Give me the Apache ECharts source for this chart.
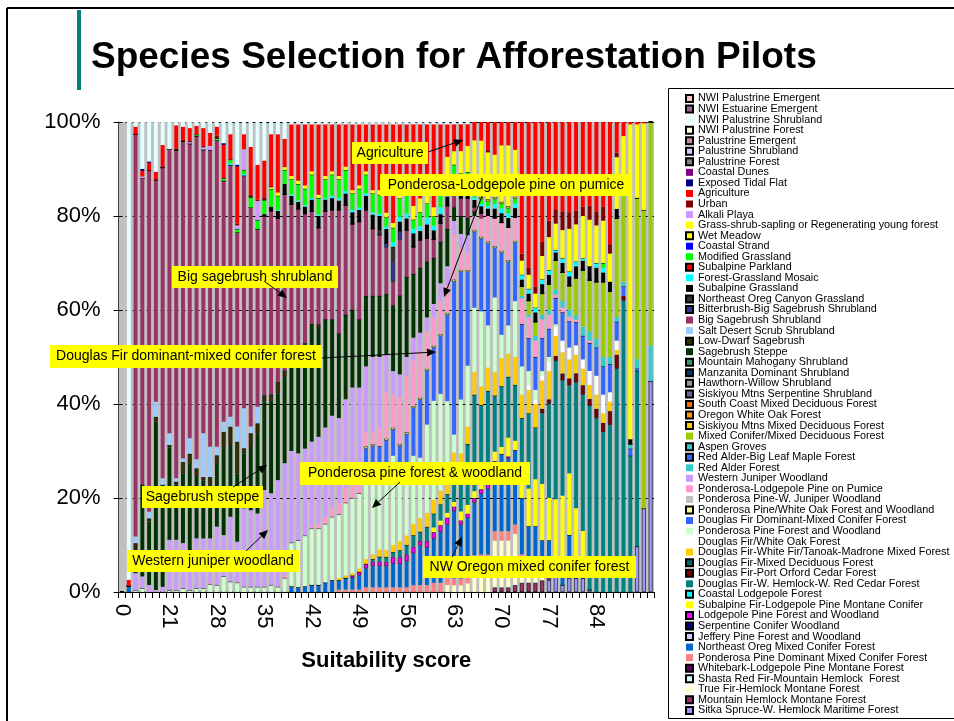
<!DOCTYPE html>
<html>
<head>
<meta charset="utf-8">
<title>Species Selection for Afforestation Pilots</title>
<script src="https://cdn.jsdelivr.net/npm/echarts@6/dist/echarts.min.js"></script>
<style>
  html, body { margin: 0; padding: 0; background: #fff; }
  #chart { width: 954px; height: 721px; }
</style>
</head>
<body>
<div id="chart"></div>
<script>
const categories = ['0',
  '15', '16', '17', '18', '19', '20', '21', '22', '23', '24',
  '25', '26', '27', '28', '29', '30', '31', '32', '33', '34',
  '35', '36', '37', '38', '39', '40', '41', '42', '43', '44',
  '45', '46', '47', '48', '49', '50', '51', '52', '53', '54',
  '55', '56', '57', '58', '59', '60', '61', '62', '63', '64',
  '65', '66', '67', '68', '69', '70', '71', '72', '73', '74',
  '75', '76', '77', '78', '79', '80', '81', '82', '83', '84',
  '85', '86', '87', '88', '89', '90', '91', '92']
const tickLabels = ['0', '21', '28', '35', '42', '49', '56', '63', '70', '77', '84']

// share of each habitat type per score (top of stack first)
const nwiShrub = [0, 97.4, 1, 10, 8.4, 10.6, 4.9, 5.8, 0.7, 1,
  1.3, 0.8, 1.3, 2.3, 1, 4.5, 2.6, 9.1, 2.6, 5.3,
  9.1, 8.2, 2.6, 2.6, 3.6, 0.5, 0.5, 0.5, 0.5, 0.5,
  0.5, 0.5, 0.5, 0.5, 0.5, 0.5, 0.5, 0.5, 0.5, 0.5,
  0.5, 0.5, 0.5, 0.5, 0.5, 0.5, 0.5, 0.5, 0.5, 0.5,
  0.5, 0.5, 0, 0, 0, 0, 0, 0, 0, 0,
  0, 0, 0, 0, 0, 0, 0, 0, 0, 0,
  0, 0, 0, 0, 0, 0, 0, 0, 0]
const tidalFlat = [0, 0, 0, 0.4, 0.3, 0, 0, 0, 0, 0,
  0, 0, 0, 0, 0, 0.4, 0, 0.4, 0, 0,
  0, 0, 0, 0, 0, 0, 0, 0, 0, 0,
  0, 0, 0, 0, 0, 0, 0, 0, 0, 0,
  0, 0, 0, 0, 0, 0, 0, 0, 0, 0,
  0, 0, 0, 0, 0, 0, 0, 0, 0, 0,
  0, 0, 0, 0, 0, 0, 0, 0, 0, 0,
  0, 0, 0, 0, 0, 0, 0, 0, 0]
const agriculture = [0, 1.3, 1.6, 1.2, 1.6, 1.7, 4.5, 0, 4.9, 2.8,
  2.6, 1.9, 3.8, 2.8, 1.9, 7.1, 5.4, 12.1, 3.2, 10.2,
  7.4, 7.8, 11, 12.4, 6, 11, 12, 13, 10, 15,
  11, 10, 11, 9, 14, 13, 10, 14, 14, 19,
  21, 15, 13, 18, 16, 15, 18, 12, 7, 6,
  6, 5, 4, 4, 6, 7, 5, 5, 6, 28,
  31, 35, 25.5, 21, 18.7, 19, 19, 19, 18, 18,
  19, 18, 26, 6.5, 3, 0.5, 0.5, 0.3, 0]
const urban = [0, 0, 0, 0, 0, 0, 0.3, 0, 0.4, 0.3,
  0.4, 0, 0.3, 0, 0.6, 0, 0, 0.4, 0, 0.5,
  0.3, 0.6, 0.3, 0, 0, 0, 0, 0, 0, 0,
  0, 0, 0, 0, 0, 0, 0, 0, 0, 0,
  0, 0, 0, 0, 0, 0, 0, 0, 0, 0,
  0, 0, 0, 0, 0.5, 0, 0, 0, 0, 1.5,
  1.5, 1.5, 3, 3.5, 2.9, 4, 3.5, 3, 2, 3,
  3, 3, 2, 1, 0, 0, 0, 0, 0]
const alkaliPlaya = [0, 0, 0, 0.4, 0, 0, 0, 0, 0, 0,
  0.3, 0, 0.5, 0.9, 0, 0, 0, 0.8, 4.4, 0,
  4.1, 0, 0, 0, 0, 0, 0, 0, 0, 0,
  0, 0, 0, 0, 0, 0, 0, 0, 0, 0,
  0, 0, 0, 0, 0, 0, 0, 0, 0, 0,
  0, 0, 0, 0, 0, 0, 0, 0, 0, 0,
  0, 0, 0, 0, 0, 0, 0, 0, 0, 0,
  0, 0, 0, 0, 0, 0, 0, 0, 0]
const grassShrub = [0, 0, 0, 0, 0, 0, 0, 0, 0, 0,
  0, 0, 0, 0, 0, 0, 0, 0, 0, 0,
  0, 0, 0.4, 0.7, 0.6, 0.7, 0.7, 0.7, 0.7, 0.7,
  0.7, 0.7, 0.7, 0.7, 0.7, 0.7, 0.7, 0.7, 1, 1,
  1, 1, 2, 3, 3, 2, 2, 3, 4, 3,
  5, 6, 11, 12, 10, 9, 12, 13, 10, 3,
  3, 3, 5, 7, 5.6, 6, 9, 8, 9, 10,
  8, 9, 6, 11, 10, 67, 15.5, 18.5, 0]
const wetMeadow = [0, 0, 0, 0, 0, 0, 0, 0, 0, 0,
  0, 0, 0, 0, 0, 0, 0, 0, 0, 0,
  0, 0, 0, 0, 0, 0, 0, 0, 0, 0,
  0, 0, 0, 0, 0, 0, 0, 0, 0, 0,
  0, 0, 0, 0, 0, 0, 0, 0, 0, 0,
  0, 0, 0.5, 0.5, 0.5, 0.5, 0.5, 0.5, 0.5, 0,
  0, 0, 0, 0, 0, 0, 0, 0, 0, 0,
  0, 0, 0, 0, 0, 0, 0, 0, 0]
const modGrass = [0, 0, 0, 0, 0, 0, 0, 0, 0, 0,
  0, 0.3, 0, 0, 0.4, 0.5, 0.8, 0.7, 0.9, 2.2,
  1.9, 3, 3.7, 3, 3, 3.2, 3.5, 3.5, 5, 3.5,
  4, 4.5, 4, 4.5, 3.5, 4, 4, 4, 4, 2,
  3, 4, 4, 2, 3, 3, 2, 3, 3, 2,
  2, 2, 1, 1, 1, 1, 1, 1, 1, 0,
  0, 0, 0, 0, 0, 0, 0, 0, 0, 0,
  0, 1, 0, 0, 0, 0, 0, 0, 0]
const fgMosaic = [0, 0, 0, 0, 0, 0, 0, 0, 0, 0,
  0, 0, 0, 0, 0, 0, 0.4, 0, 0.3, 0,
  0, 0, 0, 0.2, 0, 0.3, 0.3, 0.3, 0.3, 0.3,
  0.3, 0.5, 0.5, 0.5, 0.5, 0.5, 0.5, 0.5, 0.5, 0.5,
  1, 1, 1, 1, 1, 1.5, 1, 1.5, 1.5, 1.5,
  1.5, 1.5, 0.5, 0.5, 0.5, 1, 1, 1, 1, 1,
  1, 1, 1, 1, 0.5, 1, 1, 1, 0.5, 0,
  1, 1, 0, 0, 0, 0, 0, 0, 0]
const subGrass = [0, 0, 0, 0, 0, 0, 0, 0, 0, 0,
  0, 0, 0, 0, 0, 0, 0, 0, 0, 0,
  0, 0.4, 0.9, 1.6, 2.2, 1.8, 1.5, 1.5, 2.5, 2.5,
  2.5, 2.5, 2, 2.5, 2.5, 2.5, 3, 3, 3, 3,
  0, 2, 2.5, 3, 2, 3, 2, 2, 2, 2,
  2, 2.5, 1.5, 1.5, 1.5, 2, 2, 2, 2, 1.5,
  1.5, 2, 2, 2, 1.7, 2, 2, 2.5, 2, 3,
  3, 2, 2, 2, 1, 1, 0, 0, 0]
const neCanyon = [0, 0, 0, 0, 0, 0, 0, 0, 0, 0,
  0, 0, 0, 0, 0, 0, 0, 0, 0, 0,
  0, 0, 0, 0, 0, 0, 0, 0, 0, 0,
  0, 0, 0, 0, 0, 0, 0, 0, 1, 0,
  3, 0, 0, 0, 0, 0, 0, 0, 0, 0,
  0, 0, 0, 0, 0, 0, 0, 0, 0, 0,
  0, 0, 0, 0, 0, 0, 0, 0, 0, 0,
  0, 0, 0, 0, 0, 0, 0, 0, 0]
const bitterbrush = [0, 0, 0, 0, 0, 0, 0, 0, 0, 0,
  0, 0, 0, 0, 0, 0, 0, 0, 0, 0,
  0, 0, 0, 0, 0, 0, 0, 0, 0, 0,
  0, 0, 0, 0, 0, 0, 0, 0, 0, 1,
  4.5, 2, 0, 0, 0, 0, 0, 0, 0, 0,
  0, 0, 0, 0, 0, 0, 0, 0, 0, 0,
  0, 0, 0, 0, 0, 0, 0, 0, 0, 0,
  0, 0, 0, 0, 0, 0, 0, 0, 0]
const bigSage = [0, 0, 85.6, 65.2, 72.7, 47.2, 66.1, 60.4, 69.8, 67.5,
  62.6, 68.7, 60.4, 63.1, 65.2, 51.3, 53.5, 41.3, 49.5, 46.6,
  37.8, 38.1, 39, 34.7, 37.4, 30, 29, 27.5, 24, 20.5,
  23, 23.3, 26.3, 23.3, 18.3, 20.8, 18.3, 14.3, 13, 10,
  5, 12, 10, 6, 6, 5, 4, 4, 5, 4,
  4, 4.5, 1, 1, 0, 0, 0, 0, 0, 0,
  0, 0, 0, 0, 0, 0, 0, 0, 0, 0,
  0, 0, 0, 0, 0, 0, 0, 0, 0]
const saltDesert = [0, 0, 1.4, 0, 1.4, 3.2, 1.4, 2.5, 0.7, 0.7,
  3.3, 1.9, 9.3, 6.4, 1.8, 2.1, 2.1, 3.2, 8.5, 1.4,
  3.5, 0, 0, 0, 0, 0, 0, 0, 0, 0,
  0, 0, 0, 0, 0, 0, 0, 0, 0, 0,
  0, 0, 0, 0, 0, 0, 0, 0, 0, 0,
  0, 0, 0, 0, 0, 0, 0, 0, 0, 0,
  0, 0, 0, 0, 0, 0, 0, 0, 0, 0,
  0, 0, 0, 0, 0, 0, 0, 0, 0]
const lowDwarf = [0, 0, 1.5, 0, 0.7, 1, 0, 0.5, 0.7, 2.5,
  2.4, 1.8, 0.7, 1.7, 1.7, 3.5, 3.9, 6.8, 1.1, 2.9,
  2.1, 1.4, 1.6, 2.5, 1.4, 0.8, 0.5, 1.5, 0, 1,
  0, 0, 0, 0, 0, 0, 0, 0, 0, 0,
  0, 0, 0, 0, 0, 0, 0, 0, 0, 0,
  0, 0, 0, 0, 0, 0, 0, 0, 0, 0,
  0, 0, 0, 0, 0, 0, 0, 0, 0, 0,
  0, 0, 0, 0, 0, 0, 0, 0, 0]
const steppe = [0, 0, 4.9, 19.5, 13.5, 35.9, 21.7, 19.7, 11.7, 14.8,
  18.1, 13.1, 12.4, 11.4, 13.5, 18.5, 15.3, 14.5, 11.7, 13.5,
  17.1, 18.8, 19.5, 18.5, 18.4, 21.7, 22.5, 21, 25, 23,
  23, 20.5, 18, 18, 16.5, 14.5, 15, 13, 13, 13,
  14, 17, 17, 14, 14, 12, 10, 9, 8, 3,
  4, 4, 1, 0, 0, 0, 0, 0, 0, 0,
  0, 0, 0, 0, 0, 0, 0, 0, 0, 0,
  0, 0, 0, 0, 0, 0, 0, 0, 0]
const juniper = [0, 0, 3.6, 2.5, 1.5, 0.4, 1.1, 10.7, 10.7, 9.6,
  8.5, 10.6, 10.6, 9.4, 12.4, 8.8, 13.8, 8.5, 16.7, 16.3,
  15.6, 20.6, 19.5, 22.7, 23.7, 19.5, 18.5, 18.5, 18, 18.5,
  19, 19.5, 18, 19, 19.5, 18.5, 14, 16, 15, 8,
  5, 5, 4, 5, 4, 3, 3, 4, 4, 3,
  3, 4, 0, 0, 0, 0, 0, 0, 0, 0,
  0, 0, 0, 0, 0, 0, 0, 0, 0, 0,
  0, 0, 0, 0, 0, 0, 0, 0, 0]
const pondLodge = [0, 0, 0, 0, 0, 0, 0, 0, 0, 0,
  0, 0, 0, 0.3, 0, 0, 0, 0.2, 0, 0,
  0, 0, 0, 0, 0.7, 0, 0, 0, 0.5, 1,
  1.5, 2, 2.5, 3, 4, 4, 3, 2.5, 4, 10,
  7, 10, 12, 10, 10, 8, 6, 7, 6, 10,
  5, 4, 3, 4, 5.5, 6, 6, 7, 5, 5.5,
  4.5, 3.5, 4, 3, 0.7, 1, 1, 0.5, 0, 0.5,
  0, 0, 0, 0, 0, 0, 0, 0, 0]
const ppWhiteOak = [0, 0, 0, 0, 0, 0, 0, 0, 0, 0,
  0, 0, 0, 0, 0, 0, 0, 0, 0, 0,
  0, 0, 0, 0, 0, 0, 0, 0, 0, 0,
  0, 0, 0, 0, 0, 0, 0.5, 0.5, 0, 0.5,
  0.5, 0.5, 0.5, 0.5, 0.5, 0.5, 0.5, 0.5, 0.5, 0.5,
  0.5, 0.5, 0.5, 0.5, 0.5, 0.5, 0.5, 0.5, 0.5, 0,
  0, 0, 0, 0, 0, 0, 0, 0, 0, 0,
  0, 0, 0, 0, 0, 0, 0, 0, 0]
const dfDominant = [0, 0, 0, 0, 0, 0, 0, 0, 0, 0,
  0, 0, 0, 0, 0, 0, 0, 0, 0, 0,
  0, 0, 0, 0, 0, 0, 0, 0, 0, 0,
  0, 0, 0, 0, 0, 0, 5.5, 3.5, 5, 5.5,
  5.5, 5.5, 7.5, 10.5, 12.5, 11.5, 11.5, 12.5, 18.5, 34,
  28.5, 21.5, 16.5, 15.5, 17.5, 10.5, 17.5, 13.5, 12.5, 9,
  7, 7, 7, 6, 5.6, 6, 5.5, 5, 5, 6,
  6, 6, 6, 4, 2, 1.5, 0.5, 0, 0]
const ppForest = [0, 0, 0.4, 0.8, 0, 0, 0, 0.4, 0.4, 0.8,
  0.4, 0.8, 0.8, 1.7, 1.5, 3.3, 2.2, 2, 1.1, 1.1,
  1.1, 1.1, 1.5, 1.1, 3, 9.3, 10, 10.8, 12, 12,
  12.5, 13.5, 13.5, 15.5, 16, 16, 18, 19.5, 17, 18,
  19, 15, 14, 15, 13, 19, 21.5, 21, 17, 4,
  12, 14, 14, 16, 9, 16, 5, 6, 12, 6,
  3, 2, 1, 1, 0.5, 0, 0, 0, 0, 0,
  0, 0, 0, 0, 0, 0, 0, 0, 0]
const dfWhiteOak = [0, 0, 0, 0, 0, 0, 0, 0, 0, 0,
  0, 0, 0, 0, 0, 0, 0, 0, 0, 0,
  0, 0, 0, 0, 0, 0, 0, 0, 0, 0,
  0, 0, 0, 0, 0, 0, 0, 0, 0, 0,
  0, 0, 0, 0, 0, 0, 0, 0, 0, 0,
  0, 0, 0, 0, 0, 0, 0, 0, 0, 0,
  1, 1, 1, 2, 2, 2.5, 2.5, 2, 2, 3,
  4, 4, 2, 2, 0, 0, 0, 0, 0]
const dfTanoak = [0, 0, 0, 0, 0, 0, 0, 0, 0, 0,
  0, 0, 0, 0, 0, 0, 0, 0, 0, 0,
  0, 0, 0, 0, 0, 0, 0, 0, 0, 0,
  0, 0, 0.5, 0.5, 0.5, 0.7, 1, 1, 1.5, 1.5,
  1.5, 2, 2, 2.5, 3, 3, 3, 3, 3, 3,
  3, 4, 5, 4, 5, 5, 6, 5, 6, 5,
  5, 5, 6, 6, 4.2, 4.5, 4, 4, 3.5, 3,
  3, 2, 2, 1, 0, 0, 0, 0, 0]
const dfPortOrford = [0, 0, 0, 0, 0, 0, 0, 0, 0, 0,
  0, 0, 0, 0, 0, 0, 0, 0, 0, 0,
  0, 0, 0, 0, 0, 0, 0, 0, 0, 0,
  0, 0, 0, 0, 0, 0, 0, 0, 0, 0,
  0, 0, 0, 0, 0, 0, 0, 0, 0, 0,
  0, 0, 0, 0, 0, 0, 0, 0, 0, 0,
  0, 0, 1, 1, 1.1, 1.5, 1.5, 2, 2, 1.5,
  2, 2, 3, 3, 1, 0, 0, 0, 0]
const dfHemlock = [0, 0, 0, 0, 0, 0, 0, 0, 0, 0,
  0, 0, 0, 0, 0, 0, 0, 0, 0, 0,
  0, 0, 0, 0, 0, 0, 0, 0, 0, 0,
  0, 0, 0, 0, 0, 0, 0, 0.5, 1, 1,
  1, 1.5, 2, 2.5, 2, 3, 3, 3.5, 4, 8,
  10, 14, 21, 16, 18, 12, 13, 13, 12, 12,
  16, 11, 15, 20, 29.4, 24.5, 18.5, 27, 29, 39.5,
  37, 34, 35.5, 47.5, 62, 29, 37, 0, 0]
const redAlder = [0, 0, 0, 0, 0, 0, 0, 0, 0, 0,
  0, 0, 0, 0, 0, 0, 0, 0, 0, 0,
  0, 0, 0, 0, 0, 0, 0, 0, 0, 0,
  0, 0, 0, 0, 0, 0, 0, 0, 0, 0,
  0, 0, 0, 0, 0, 0, 0, 0, 0, 0,
  0, 0, 0, 0, 0, 0, 0, 0, 0, 0.5,
  0.5, 1, 1, 1, 1.1, 1.5, 1.5, 1, 2, 2,
  2, 2, 1.5, 1, 1, 1, 2, 0, 7.7]
const mixedConifer = [0, 0, 0, 0, 0, 0, 0, 0, 0, 0,
  0, 0, 0, 0, 0, 0, 0, 0, 0, 0,
  0, 0, 0, 0, 0, 0, 0, 0, 0, 0,
  0, 0, 0, 0, 0, 0, 0, 0, 0, 0,
  0, 0, 0, 0, 0, 0, 0, 0, 0, 0,
  0, 0, 0, 0, 0, 0, 0, 0, 0, 2,
  3, 3, 4.5, 5.5, 6.2, 6, 5, 8, 12, 11,
  12, 16, 14, 21, 20, 0, 34, 63.5, 48]
const subalpineFir = [0, 0, 0, 0, 0, 0, 0, 0, 0, 0,
  0, 0, 0, 0, 0, 0, 0, 0, 0, 0,
  0, 0, 0, 0, 0, 0, 0, 0, 0, 0,
  0, 0, 0, 0, 0, 0, 0, 0, 0, 0,
  0, 0, 0, 0, 0, 0, 1, 1, 1, 1,
  2, 2, 1.5, 2, 2, 2, 1.5, 4, 2, 5,
  8, 10, 12, 9, 12.1, 13, 13, 12, 10, 0,
  0, 0, 0, 0, 0, 0, 0, 0, 0]
const lodgepole = [0, 0, 0, 0, 0, 0, 0, 0, 0, 0,
  0, 0, 0, 0, 0, 0, 0, 0, 0, 0,
  0, 0, 0, 0, 0, 0, 0, 0, 0, 0,
  0, 0, 0, 0, 0.5, 0.8, 1, 1, 1, 1,
  1.5, 1.5, 1.5, 1.5, 1, 1.5, 1.5, 1.5, 1.5, 1,
  1, 1, 1, 1, 1, 0.5, 0, 0.5, 0, 0,
  0, 0, 0, 0, 0, 0, 0, 0, 0, 0,
  0, 0, 0, 0, 0, 0, 0, 0, 0]
const neMixed = [0, 1.3, 0, 0, 0, 0, 0, 0, 0, 0,
  0, 0, 0, 0, 0, 0, 0, 0, 0, 0,
  0, 0, 0, 0, 0, 1.2, 1, 1.2, 1.5, 1.5,
  2, 2.5, 2, 2.5, 2.5, 3, 4, 4.5, 4.5, 4.5,
  5, 5, 5.5, 7, 8.5, 8, 9.5, 11, 11.5, 15,
  12, 13, 11.5, 13, 14, 14.5, 16.5, 15.5, 16, 12,
  7, 8, 5, 5, 2, 6, 9, 3, 0, 0,
  0, 0, 0, 0, 0, 0, 0, 0, 0]
const ppDominant = [0, 0, 0, 0, 0, 0, 0, 0, 0, 0,
  0, 0, 0, 0, 0, 0, 0, 0, 0, 0,
  0, 0, 0, 0, 0, 0, 0, 0, 0, 0,
  0, 0, 0.5, 0.5, 0.5, 0.5, 1, 1, 1, 1,
  1, 1, 1, 1.5, 1.5, 1.5, 2, 2, 1.5, 1.5,
  1.5, 2, 2, 2, 2, 2, 2, 2, 2, 2,
  1.5, 1.5, 1.5, 1.5, 0, 0, 0, 0, 0, 0,
  0, 0, 0, 0, 0, 0, 0, 0, 0]
const trueFir = [0, 0, 0, 0, 0, 0, 0, 0, 0, 0,
  0, 0, 0, 0, 0, 0, 0, 0, 0, 0,
  0, 0, 0, 0, 0, 0, 0, 0, 0, 0,
  0, 0, 0, 0, 0, 0, 0, 0, 0, 0,
  0, 0, 0, 0, 0, 0, 0, 0, 1.5, 1.5,
  1.5, 2, 6, 6, 6, 10, 10, 10, 11, 4,
  3.5, 2.5, 2, 0, 0, 0, 0, 0, 0, 0,
  0, 0, 0, 0, 0, 0, 0, 0, 0]
const mtnHemlock = [0, 0, 0, 0, 0, 0, 0, 0, 0, 0,
  0, 0, 0, 0, 0, 0, 0, 0, 0, 0,
  0, 0, 0, 0, 0, 0, 0, 0, 0, 0,
  0, 0, 0, 0, 0, 0, 0, 0, 0, 0,
  0, 0, 0, 0, 0, 0, 0, 0, 0, 0,
  0, 0, 0, 0, 0, 1, 1, 1, 1.5, 2,
  2, 2, 2.5, 2, 1, 0, 0, 0, 0, 0,
  0, 0, 0, 0, 0, 0, 0, 0, 0]
const sitka = [0, 0, 0, 0, 0, 0, 0, 0, 0, 0,
  0, 0, 0, 0, 0, 0, 0, 0, 0, 0,
  0, 0, 0, 0, 0, 0, 0, 0, 0, 0,
  0, 0, 0, 0, 0, 0, 0, 0, 0, 0,
  0, 0, 0, 0, 0, 0, 0, 0, 0, 0,
  0, 0, 0, 0, 0, 0, 0, 0, 0, 0,
  0, 0, 0, 2.5, 4.6, 1.5, 3, 3, 3, 0.5,
  0, 0, 0, 0, 0, 0, 9.6, 17.8, 45.2]

// legend order = top of stack first; b = outlined swatch
const layers = [
  { name: 'NWI Palustrine Emergent', color: '#ffc0c0', b: 1, data: [] },
  { name: 'NWI Estuarine Emergent', color: '#996699', b: 1, data: [] },
  { name: 'NWI Palustrine Shrubland', color: '#e3ffff', data: nwiShrub },
  { name: 'NWI Palustrine Forest', color: '#ffffe0', b: 1, data: [] },
  { name: 'Palustrine Emergent', color: '#c08ca8', b: 1, data: [] },
  { name: 'Palustrine Shrubland', color: '#ccccff', b: 1, data: [] },
  { name: 'Palustrine Forest', color: '#808080', b: 1, data: [] },
  { name: 'Coastal Dunes', color: '#800080', data: [] },
  { name: 'Exposed Tidal Flat', color: '#000080', data: tidalFlat },
  { name: 'Agriculture', color: '#ff0000', data: agriculture },
  { name: 'Urban', color: '#800000', data: urban },
  { name: 'Alkali Playa', color: '#cc99ff', data: alkaliPlaya },
  { name: 'Grass-shrub-sapling or Regenerating young forest', color: '#ffff00', data: grassShrub },
  { name: 'Wet Meadow', color: '#ffff00', b: 1, data: wetMeadow },
  { name: 'Coastal Strand', color: '#0000ff', data: [] },
  { name: 'Modified Grassland', color: '#00ff00', data: modGrass },
  { name: 'Subalpine Parkland', color: '#ff0000', b: 1, data: [] },
  { name: 'Forest-Grassland Mosaic', color: '#00ffff', data: fgMosaic },
  { name: 'Subalpine Grassland', color: '#000000', data: subGrass },
  { name: 'Northeast Oreg Canyon Grassland', color: '#333333', b: 1, data: neCanyon },
  { name: 'Bitterbrush-Big Sagebrush Shrubland', color: '#333399', b: 1, data: bitterbrush },
  { name: 'Big Sagebrush Shrubland', color: '#993366', data: bigSage },
  { name: 'Salt Desert Scrub Shrubland', color: '#99ccff', data: saltDesert },
  { name: 'Low-Dwarf Sagebrush', color: '#333300', b: 1, data: lowDwarf },
  { name: 'Sagebrush Steppe', color: '#003300', data: steppe },
  { name: 'Mountain Mahogany Shrubland', color: '#339966', b: 1, data: [] },
  { name: 'Manzanita Dominant Shrubland', color: '#003366', b: 1, data: [] },
  { name: 'Hawthorn-Willow Shrubland', color: '#969696', b: 1, data: [] },
  { name: 'Siskiyou Mtns Serpentine Shrubland', color: '#666699', b: 1, data: [] },
  { name: 'South Coast Mixed Deciduous Forest', color: '#ff6600', b: 1, data: [] },
  { name: 'Oregon White Oak Forest', color: '#ff9900', b: 1, data: [] },
  { name: 'Siskiyou Mtns Mixed Deciduous Forest', color: '#ffcc00', b: 1, data: [] },
  { name: 'Mixed Conifer/Mixed Deciduous Forest', color: '#99cc00', data: mixedConifer },
  { name: 'Aspen Groves', color: '#33cccc', b: 1, data: [] },
  { name: 'Red Alder-Big Leaf Maple Forest', color: '#3366ff', b: 1, data: [] },
  { name: 'Red Alder Forest', color: '#33cccc', data: redAlder },
  { name: 'Western Juniper Woodland', color: '#cc99ff', data: juniper },
  { name: 'Ponderosa-Lodgepole Pine on Pumice', color: '#ff99cc', data: pondLodge },
  { name: 'Ponderosa Pine-W. Juniper Woodland', color: '#c0c0c0', data: [] },
  { name: 'Ponderosa Pine/White Oak Forest and Woodland', color: '#ffff99', b: 1, data: ppWhiteOak },
  { name: 'Douglas Fir Dominant-Mixed Conifer Forest', color: '#3366ff', data: dfDominant },
  { name: 'Ponderosa Pine Forest and Woodland', color: '#ccffcc', data: ppForest },
  { name: 'Douglas Fir/White Oak Forest', color: '#ffffff', data: dfWhiteOak },
  { name: 'Douglas Fir-White Fir/Tanoak-Madrone Mixed Forest', color: '#ffcc00', data: dfTanoak },
  { name: 'Douglas Fir-Mixed Deciduous Forest', color: '#006666', b: 1, data: [] },
  { name: 'Douglas Fir-Port Orford Cedar Forest', color: '#800000', b: 1, data: dfPortOrford },
  { name: 'Douglas Fir-W. Hemlock-W. Red Cedar Forest', color: '#008080', data: dfHemlock },
  { name: 'Coastal Lodgepole Forest', color: '#00ffff', b: 1, data: [] },
  { name: 'Subalpine Fir-Lodgepole Pine Montane Conifer', color: '#ffff00', data: subalpineFir },
  { name: 'Lodgepole Pine Forest and Woodland', color: '#ff00ff', b: 1, data: lodgepole },
  { name: 'Serpentine Conifer Woodland', color: '#000080', b: 1, data: [] },
  { name: 'Jeffery Pine Forest and Woodland', color: '#ccccff', b: 1, data: [] },
  { name: 'Northeast Oreg Mixed Conifer Forest', color: '#0066cc', data: neMixed },
  { name: 'Ponderosa Pine Dominant Mixed Conifer Forest', color: '#ff8080', data: ppDominant },
  { name: 'Whitebark-Lodgepole Pine Montane Forest', color: '#660066', b: 1, data: [] },
  { name: 'Shasta Red Fir-Mountain Hemlock  Forest', color: '#ccffff', b: 1, data: [] },
  { name: 'True Fir-Hemlock Montane Forest', color: '#ffffcc', data: trueFir },
  { name: 'Mountain Hemlock Montane Forest', color: '#993366', b: 1, data: mtnHemlock },
  { name: 'Sitka Spruce-W. Hemlock Maritime Forest', color: '#9999ff', b: 1, data: sitka }
]

layers.forEach(l => {
  if (l.data.length && l.data.length !== categories.length) {
    console.error(l.name + ' has ' + l.data.length + ' values')
  }
})

// 100% stacked, like the original
const totals = categories.map((c, i) => layers.reduce((s, l) => s + (l.data[i] || 0), 0))

const series = layers.slice().reverse().map(l => ({
  name: l.name,
  type: 'bar',
  stack: 'share',
  barCategoryGap: '42%',
  itemStyle: {
    color: l.color,
    borderColor: l.b ? '#000' : l.color,
    borderWidth: l.b ? 0.6 : 0
  },
  emphasis: { disabled: true },
  data: l.data.length ? categories.map((c, i) => totals[i] ? l.data[i] / totals[i] * 100 : 0) : []
}))

function arrow(x1, y1, x2, y2) {
  const a = Math.atan2(y2 - y1, x2 - x1)
  const bx = x2 - 9 * Math.cos(a)
  const by = y2 - 9 * Math.sin(a)
  const w = 4
  return [
    { type: 'line', z: 100, shape: { x1: x1, y1: y1, x2: bx, y2: by }, style: { stroke: '#000', lineWidth: 1 } },
    { type: 'polygon', z: 100, shape: { points: [[x2, y2], [bx + w * Math.sin(a), by - w * Math.cos(a)], [bx - w * Math.sin(a), by + w * Math.cos(a)]] }, style: { fill: '#000' } }
  ]
}

function note(text, x, y, w, h) {
  return [
    { type: 'rect', z: 100, shape: { x: x, y: y, width: w, height: h }, style: { fill: '#ffff00' } },
    { type: 'text', z: 101, x: x + w / 2, y: y + h / 2, style: { text: text, fill: '#000', font: '14px "Liberation Sans", Arial, sans-serif', textAlign: 'center', textVerticalAlign: 'middle' } }
  ]
}

const graphics = [].concat(
  [
    { type: 'line', shape: { x1: 7, y1: 8, x2: 954, y2: 8 }, style: { stroke: '#000', lineWidth: 2 } },
    { type: 'line', shape: { x1: 7, y1: 8, x2: 7, y2: 721 }, style: { stroke: '#000', lineWidth: 2 } },
    { type: 'rect', shape: { x: 77, y: 10, width: 4, height: 80 }, style: { fill: '#008080' } },
    { type: 'text', x: 91, y: 58, style: { text: 'Species Selection for Afforestation Pilots', fill: '#000', font: 'bold 37px "Liberation Sans", Arial, sans-serif', textVerticalAlign: 'middle' } },
    { type: 'rect', shape: { x: 668.5, y: 88.5, width: 300, height: 630 }, style: { fill: 'none', stroke: '#000', lineWidth: 1 } }
  ],
  note('Agriculture', 352, 142, 76, 22), arrow(428, 152, 463, 140),
  note('Ponderosa-Lodgepole pine on pumice', 380, 174, 252, 22), arrow(482, 196, 444, 297),
  note('Big sagebrush shrubland', 172, 266, 166, 22), arrow(264, 281, 287, 298),
  note('Douglas Fir dominant-mixed conifer forest', 50, 345, 272, 23), arrow(322, 358, 436, 352),
  note('Ponderosa pine forest & woodland', 300, 462, 230, 23), arrow(400, 482, 372, 508),
  note('Sagebrush steppe', 142, 486, 121, 22), arrow(233, 487, 267, 465),
  note('Western juniper woodland', 127, 550, 172, 22), arrow(246, 551, 268, 530),
  note('NW Oregon mixed conifer forest', 423, 556, 213, 22), arrow(452, 557, 462, 537)
)

const chart = echarts.init(document.getElementById('chart'))
chart.setOption({
  animation: false,
  backgroundColor: '#fff',
  textStyle: { fontFamily: '"Liberation Sans", Arial, sans-serif' },
  grid: {
    left: 118.6, right: 300, top: 122, bottom: 129,
    show: true, backgroundColor: '#c0c0c0', borderWidth: 0
  },
  legend: {
    orient: 'vertical',
    left: 685, top: 93,
    padding: 0,
    itemWidth: 7, itemHeight: 7, itemGap: -0.45,
    itemTextGap: 5,
    icon: 'rect',
    selectedMode: false,
    data: layers.map(l => l.name),
    textStyle: { fontSize: 10.8, lineHeight: 10.55, color: '#000', fontFamily: '"Liberation Sans", Arial, sans-serif' }
  },
  xAxis: {
    type: 'category',
    data: categories,
    name: 'Suitability score',
    nameLocation: 'middle',
    nameGap: 58,
    nameTextStyle: { fontSize: 22, fontWeight: 'bold', color: '#000' },
    axisLine: { lineStyle: { color: '#000', width: 1 } },
    axisTick: { show: true, interval: 0, length: 6, lineStyle: { color: '#000' } },
    axisLabel: {
      interval: (i, v) => tickLabels.indexOf(v) >= 0,
      rotate: -90,
      margin: 12,
      fontSize: 22,
      color: '#000'
    }
  },
  yAxis: {
    type: 'value',
    min: 0, max: 100, interval: 20,
    axisLine: { show: true, lineStyle: { color: '#404040' } },
    axisTick: { show: true, length: 5, lineStyle: { color: '#000' } },
    axisLabel: { formatter: '{value}%', fontSize: 22, color: '#000', margin: 18 },
    splitLine: { show: true, lineStyle: { color: '#000', type: [4, 3], width: 1 } }
  },
  graphic: graphics,
  series: series
})
</script>
</body>
</html>
